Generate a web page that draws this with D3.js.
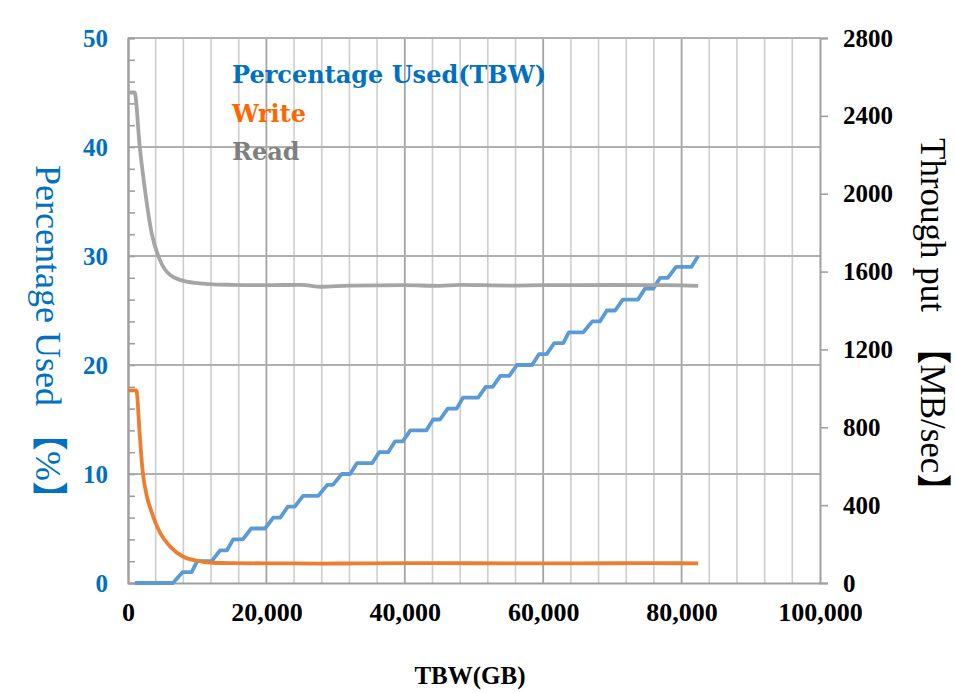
<!DOCTYPE html>
<html>
<head>
<meta charset="utf-8">
<script src="https://cdn.jsdelivr.net/npm/d3@7"></script>
<style>
  html, body { margin: 0; padding: 0; background: #fff; }
  svg { display: block; }
</style>
</head>
<body>
<svg id="chart" width="955" height="693"></svg>
<script>
// ---------- data ----------
const xTickValues = [0, 20000, 40000, 60000, 80000, 100000];
const leftTickValues = [0, 10, 20, 30, 40, 50];
const rightTickValues = [0, 400, 800, 1200, 1600, 2000, 2400, 2800];

const seriesNames = ["Percentage Used(TBW)", "Write", "Read"];

// Percentage Used (left axis, %)
const pctTBW = [1000, 6500, 7900, 9200, 10000, 12100, 13300, 14300, 15200, 16600,
  17800, 19800, 21000, 22000, 23100, 24100, 25300, 27500, 28800, 29600,
  30900, 32100, 33100, 35300, 36300, 37600, 38600, 39700, 40800, 43100,
  44100, 45100, 46200, 47500, 48400, 50600, 51700, 52700, 53800, 55100,
  56200, 58400, 59400, 60500, 61600, 62900, 63700, 65800, 67100, 68200,
  69200, 70400, 71500, 73700, 74700, 75900, 76900, 78000, 79200, 81400, 82400];
const pctValues = [0, 0, 1, 1, 2, 2, 3, 3, 4, 4,
  5, 5, 6, 6, 7, 7, 8, 8, 9, 9,
  10, 10, 11, 11, 12, 12, 13, 13, 14, 14,
  15, 15, 16, 16, 17, 17, 18, 18, 19, 19,
  20, 20, 21, 21, 22, 22, 23, 23, 24, 24,
  25, 25, 26, 26, 27, 27, 28, 28, 29, 29, 30];

// Write throughput (right axis, MB/sec)
const writeTBW = [0, 1200, 1700, 2100, 2700, 3400, 4600, 6100, 8000, 9900,
  12300, 15000, 20000, 28000, 35000, 45000, 55000, 65000, 75000, 82400];
const writeMBs = [990, 990, 760, 580, 450, 365, 260, 187, 135, 115,
  104, 102, 101, 100, 101, 102, 101, 101, 102, 101];

// Read throughput (right axis, MB/sec)
const readTBW = [0, 950, 1700, 2450, 3400, 4600, 6100, 8500, 11800, 15000,
  20000, 25000, 28000, 32000, 40000, 45000, 48000, 55000, 60000, 70000, 78000, 82400];
const readMBs = [2520, 2520, 2240, 2020, 1800, 1660, 1582, 1548, 1536, 1532,
  1530, 1532, 1522, 1528, 1530, 1527, 1532, 1528, 1530, 1531, 1530, 1526];

// ---------- layout ----------
const L = 128, R = 820, T = 38, B = 583;
const svg = d3.select("#chart");
svg.append("rect").attr("width", 955).attr("height", 693).attr("fill", "#fff");

const x = d3.scaleLinear().domain([0, 100000]).range([L, R]);
const yL = d3.scaleLinear().domain([0, 50]).range([B, T]);
const yR = d3.scaleLinear().domain([0, 2800]).range([B, T]);

const numFont = "'Liberation Serif', 'Times New Roman', serif";

// ---------- grid ----------
const grid = svg.append("g");
d3.range(4000, 100000, 4000).forEach(v => {
  const major = v % 20000 === 0;
  grid.append("line")
    .attr("x1", x(v)).attr("x2", x(v)).attr("y1", T).attr("y2", B)
    .attr("stroke", major ? "#a3a3a3" : "#cdcdcd")
    .attr("stroke-width", major ? 1.8 : 1.6);
});
leftTickValues.filter(v => v > 0).forEach(v => {
  grid.append("line")
    .attr("x1", L).attr("x2", R).attr("y1", yL(v)).attr("y2", yL(v))
    .attr("stroke", "#b0b0b0").attr("stroke-width", 1.8);
});

// ---------- axes ----------
function styleAxis(g) {
  g.select(".domain").attr("stroke", "#a0a0a0").attr("stroke-width", 2);
  g.selectAll(".tick line").attr("stroke", "#a0a0a0").attr("stroke-width", 1.6);
}

// left minor ticks (inside)
const leftMinor = svg.append("g").attr("transform", `translate(${L},0)`)
  .call(d3.axisRight(yL).tickValues(d3.range(0, 51, 2)).tickSize(7).tickFormat(""));
styleAxis(leftMinor);

const leftAxis = svg.append("g").attr("transform", `translate(${L},0)`)
  .call(d3.axisLeft(yL).tickValues(leftTickValues).tickSize(0).tickPadding(20).tickFormat(d3.format("d")));
styleAxis(leftAxis);
leftAxis.selectAll("text").attr("fill", "#0070C0").attr("font-family", numFont)
  .attr("font-weight", "bold").attr("font-size", 25);

const rightAxis = svg.append("g").attr("transform", `translate(${R},0)`)
  .call(d3.axisRight(yR).tickValues(rightTickValues).tickSize(8).tickPadding(15).tickFormat(d3.format("d")));
styleAxis(rightAxis);
rightAxis.selectAll("text").attr("fill", "#000").attr("font-family", numFont)
  .attr("font-weight", "bold").attr("font-size", 25);

const bottomAxis = svg.append("g").attr("transform", `translate(0,${B})`)
  .call(d3.axisBottom(x).tickValues(xTickValues).tickSize(0).tickPadding(20).tickFormat(d3.format(",")));
styleAxis(bottomAxis);
bottomAxis.selectAll("text").attr("fill", "#000").attr("font-family", numFont)
  .attr("font-weight", "bold").attr("font-size", 26);

// ---------- series ----------
const pctData = pctTBW.map((t, i) => [t, pctValues[i]]);
const writeData = writeTBW.map((t, i) => [t, writeMBs[i]]);
const readData = readTBW.map((t, i) => [t, readMBs[i]]);

const linePct = d3.line().x(d => x(d[0])).y(d => yL(d[1]));
const lineR = d3.line().x(d => x(d[0])).y(d => yR(d[1])).curve(d3.curveMonotoneX);

svg.append("path").datum(pctData).attr("d", linePct)
  .attr("fill", "none").attr("stroke", "#5B9BD5").attr("stroke-width", 3.8)
  .attr("stroke-linejoin", "round");
svg.append("path").datum(writeData).attr("d", lineR)
  .attr("fill", "none").attr("stroke", "#ED7D31").attr("stroke-width", 3.8)
  .attr("stroke-linejoin", "round");
svg.append("path").datum(readData).attr("d", lineR)
  .attr("fill", "none").attr("stroke", "#A5A5A5").attr("stroke-width", 3.8)
  .attr("stroke-linejoin", "round");

// ---------- legend ----------
const legendColors = ["#0070C0", "#FF6600", "#7F7F7F"];
const legendY = [83, 122, 160];
seriesNames.forEach((n, i) => {
  svg.append("text").attr("x", 232).attr("y", legendY[i])
    .attr("font-family", "'DejaVu Serif', serif").attr("font-weight", "bold")
    .attr("font-size", 24).attr("fill", legendColors[i]).text(n);
});

// ---------- axis titles ----------
svg.append("text")
  .attr("transform", "translate(36,165) rotate(90)")
  .attr("font-family", "'Liberation Serif', 'Noto Sans CJK JP', serif")
  .attr("font-size", 36).attr("fill", "#0070C0")
  .text("Percentage Used 【%】");

svg.append("text")
  .attr("transform", "translate(921,138) rotate(90)")
  .attr("font-family", "'Liberation Serif', 'Noto Sans CJK JP', serif")
  .attr("font-size", 35).attr("fill", "#000")
  .attr("xml:space", "preserve")
  .text("Through put  【MB/sec】");

svg.append("text")
  .attr("x", 470).attr("y", 684).attr("text-anchor", "middle")
  .attr("font-family", numFont).attr("font-weight", "bold")
  .attr("font-size", 25).attr("fill", "#000").text("TBW(GB)");
</script>
</body>
</html>
